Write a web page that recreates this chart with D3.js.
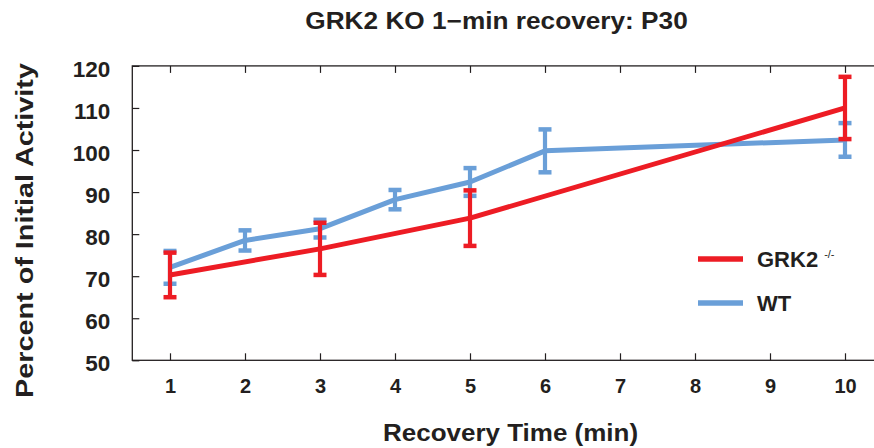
<!DOCTYPE html>
<html>
<head>
<meta charset="utf-8">
<script src="https://cdn.jsdelivr.net/npm/d3@7"></script>
<style>
  html, body { margin: 0; padding: 0; background: #fff; }
  svg { display: block; }
  text { font-family: "Liberation Sans", Arial, Helvetica, sans-serif; font-weight: bold; fill: #231f20; }
</style>
</head>
<body>
<svg id="chart" width="874" height="448"></svg>
<script>
// ---- data ----
const title = "GRK2 KO 1\u2212min recovery: P30";
const xLabel = "Recovery Time (min)";
const yLabel = "Percent of Initial Activity";
const xTicks = [1, 2, 3, 4, 5, 6, 7, 8, 9, 10];
const yTicks = [50, 60, 70, 80, 90, 100, 110, 120];

const grkTime = [1, 3, 5, 10];
const grkMean = [70.3, 76.5, 83.8, 110.0];
const grkErr  = [5.3, 6.2, 6.6, 7.4];

const wtTime = [1, 2, 3, 4, 5, 6, 10];
const wtMean = [72.1, 78.5, 81.3, 88.2, 92.4, 99.8, 102.4];
const wtErr  = [3.9, 2.4, 2.1, 2.3, 3.3, 5.1, 4.0];

const seriesNames = ["GRK2", "WT"];
const colors = ["#ed1c24", "#6a9fd8"];

// ---- layout ----
const svg = d3.select("#chart");
const plotLeft = 132.3, plotTop = 65.9, plotBottom = 360.3;
const x = d3.scaleLinear().domain([0.5, 10.5]).range([132.5, 882.5]);
const y = d3.scaleLinear().domain([50, 120]).range([plotBottom, plotTop]);
const ink = "#231f20";

// frame
svg.append("rect")
  .attr("x", plotLeft).attr("y", plotTop)
  .attr("width", 900).attr("height", plotBottom - plotTop)
  .attr("fill", "none").attr("stroke", ink).attr("stroke-width", 1.3);

// bottom axis
const gx = svg.append("g").attr("transform", `translate(0,${plotBottom})`)
  .call(d3.axisBottom(x).tickValues(xTicks).tickSize(-7).tickPadding(19).tickFormat(d3.format("d")));
gx.select(".domain").remove();
gx.selectAll("line").attr("stroke", ink).attr("stroke-width", 1.2);
gx.selectAll("text").style("font-size", "20px").attr("fill", ink);

// top axis ticks
const gt = svg.append("g").attr("transform", `translate(0,${plotTop})`)
  .call(d3.axisTop(x).tickValues(xTicks).tickSize(-7).tickFormat(""));
gt.select(".domain").remove();
gt.selectAll("line").attr("stroke", ink).attr("stroke-width", 1.2);

// left axis
const gy = svg.append("g").attr("transform", `translate(${plotLeft},0)`)
  .call(d3.axisLeft(y).tickValues(yTicks).tickSize(-7).tickPadding(22));
gy.select(".domain").remove();
gy.selectAll("line").attr("stroke", ink).attr("stroke-width", 1.2);
gy.selectAll("text").style("font-size", "22.5px").attr("dy", "0.45em").attr("fill", ink);

// series
function drawSeries(times, means, errs, color) {
  const pts = times.map((t, i) => ({ t, m: means[i], e: errs[i] }));
  const line = d3.line().x(d => x(d.t)).y(d => y(d.m));
  const g = svg.append("g");
  g.append("path").datum(pts).attr("d", line)
    .attr("fill", "none").attr("stroke", color).attr("stroke-width", 5)
    .attr("stroke-linejoin", "round");
  const eb = g.selectAll("g.eb").data(pts).enter().append("g");
  eb.append("line")
    .attr("x1", d => x(d.t)).attr("x2", d => x(d.t))
    .attr("y1", d => y(d.m + d.e)).attr("y2", d => y(d.m - d.e))
    .attr("stroke", color).attr("stroke-width", 4.2);
  [1, -1].forEach(s => {
    eb.append("line")
      .attr("x1", d => x(d.t) - 6.5).attr("x2", d => x(d.t) + 6.5)
      .attr("y1", d => y(d.m + s * d.e)).attr("y2", d => y(d.m + s * d.e))
      .attr("stroke", color).attr("stroke-width", 4.5);
  });
}
drawSeries(wtTime, wtMean, wtErr, colors[1]);
drawSeries(grkTime, grkMean, grkErr, colors[0]);

// legend
const legY = [259, 303];
seriesNames.forEach((name, i) => {
  svg.append("line")
    .attr("x1", 698).attr("x2", 743).attr("y1", legY[i]).attr("y2", legY[i])
    .attr("stroke", colors[i]).attr("stroke-width", 5.5);
  const t = svg.append("text").attr("x", 757).attr("y", legY[i] + 8)
    .style("font-size", "22px").text(name);
  if (i === 0) {
    t.append("tspan").attr("dx", 6).attr("dy", -9).style("font-size", "11px").style("font-weight", "normal").text("-/-");
  }
});

// title and axis labels
svg.append("text")
  .attr("transform", "translate(496.5,29) scale(1.14,1)")
  .attr("text-anchor", "middle").style("font-size", "23px").text(title);
svg.append("text")
  .attr("transform", "translate(510.5,440.5) scale(1.13,1)")
  .attr("text-anchor", "middle").style("font-size", "23px").text(xLabel);
svg.append("text")
  .attr("transform", "translate(33,230.5) rotate(-90) scale(1.2,1)")
  .attr("text-anchor", "middle").style("font-size", "24px").text(yLabel);
</script>
</body>
</html>
